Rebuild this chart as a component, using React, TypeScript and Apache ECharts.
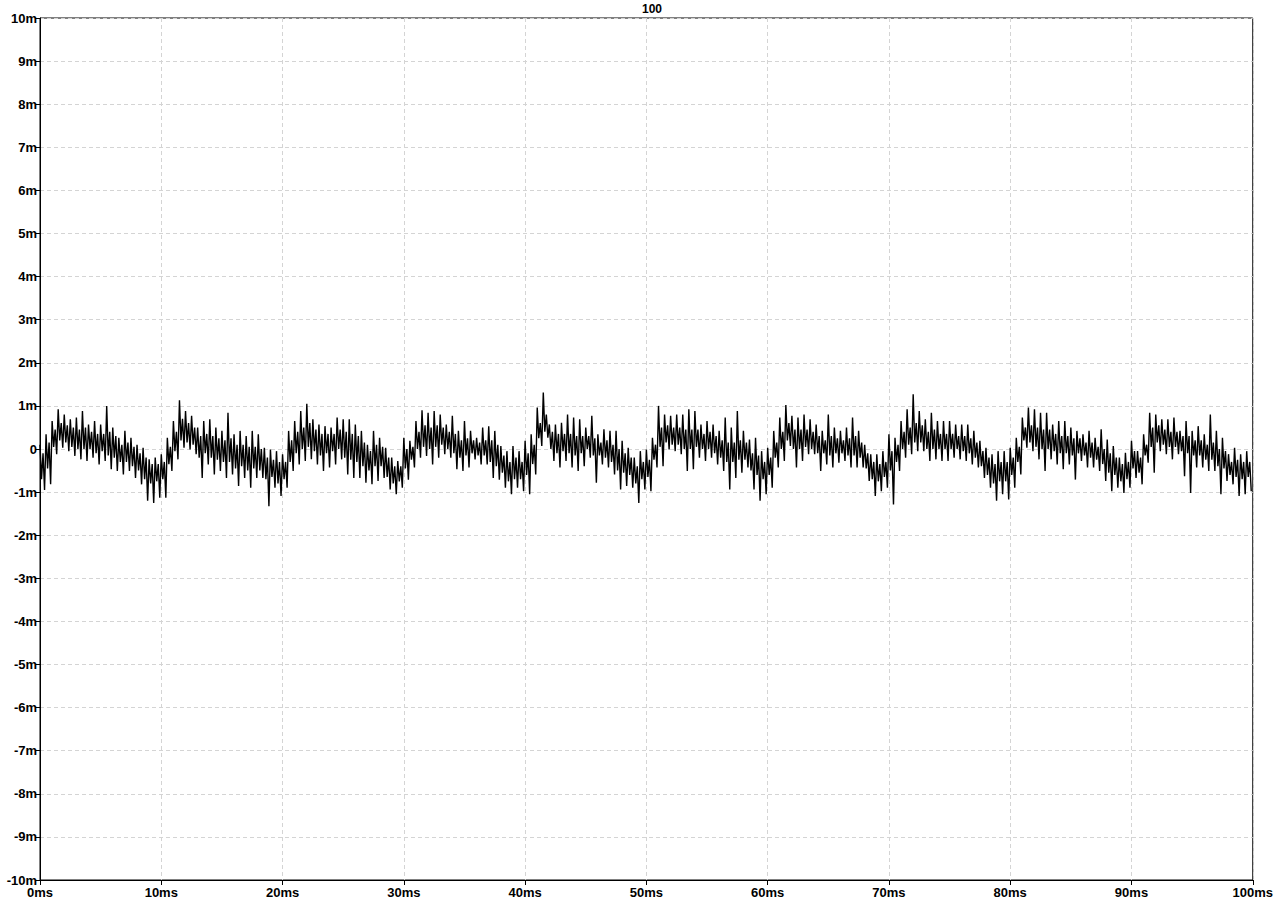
import React, { useEffect, useRef } from "react";
import * as echarts from "echarts";

// Tick labels
const yTicks = [-10, -9, -8, -7, -6, -5, -4, -3, -2, -1, 0, 1, 2, 3, 4, 5, 6, 7, 8, 9, 10];
const xTicks = [0, 10, 20, 30, 40, 50, 60, 70, 80, 90, 100];
const title = "100";

// Outer envelope (spike extremes) of the trace per 0.5 ms segment (mV)
const segHigh = [
  0.1, 0.34, 0.65, 0.92, 0.8, 0.69, 0.73, 0.88, 0.57, 0.65, 0.57, 1.0, 0.5, 0.26, 0.42, 0.26, 0.1, 0.03,
  -0.24, -0.2, -0.12, 0.26, 0.65, 1.13, 0.88, 0.77, 0.5, 0.65, 0.69, 0.5, 0.42, 0.84, 0.34, 0.42, 0.3, 0.42,
  0.34, 0.03, -0.01, -0.05, -0.12, 0.42, 0.65, 0.88, 1.05, 0.69, 0.57, 0.53, 0.5, 0.73, 0.69, 0.69, 0.57, 0.42,
  0.1, 0.42, 0.26, 0.03, -0.2, -0.28, 0.26, 0.19, 0.65, 0.9, 0.84, 0.88, 0.8, 0.57, 0.77, 0.42, 0.65, 0.42,
  0.26, 0.5, 0.53, 0.42, 0.07, -0.05, 0.07, -0.05, 0.19, 0.34, 0.96, 1.31, 0.57, 0.57, 0.61, 0.8, 0.73, 0.69,
  0.5, 0.77, 0.34, 0.46, 0.42, 0.42, 0.19, 0.03, -0.2, -0.05, -0.01, 0.26, 1.0, 0.8, 0.77, 0.8, 0.8, 0.92,
  0.88, 0.57, 0.65, 0.57, 0.42, 0.73, 0.5, 0.88, 0.42, 0.22, 0.26, -0.05, 0.03, 0.42, 0.73, 1.02, 0.77, 0.73,
  0.8, 0.69, 0.57, 0.42, 0.8, 0.5, 0.42, 0.5, 0.73, 0.42, 0.1, -0.12, -0.12, -0.05, 0.34, 0.26, 0.65, 0.92,
  1.27, 0.88, 0.69, 0.84, 0.65, 0.65, 0.65, 0.57, 0.57, 0.57, 0.42, 0.19, 0.03, -0.12, -0.05, -0.05, 0.03, 0.26,
  0.73, 0.96, 0.92, 0.84, 0.84, 0.57, 0.65, 0.65, 0.5, 0.42, 0.34, 0.42, 0.26, 0.46, 0.22, 0.07, -0.2, -0.09,
  0.19, -0.05, 0.34, 0.84, 0.8, 0.69, 0.69, 0.73, 0.42, 0.65, 0.42, 0.53, 0.34, 0.8, 0.42, 0.26, -0.12, 0.03,
  -0.12, -0.05,
];
const segLow = [
  -0.95, -0.82, -0.12, 0.03, -0.05, -0.16, -0.24, -0.28, -0.2, -0.36, -0.28, -0.47, -0.51, -0.59, -0.51, -0.67, -0.82, -1.2,
  -1.25, -1.13, -1.13, -0.51, -0.24, 0.03, -0.01, -0.12, -0.67, -0.36, -0.59, -0.51, -0.67, -0.59, -0.86, -0.67, -0.9, -0.67,
  -0.67, -1.33, -0.9, -1.09, -0.9, -0.51, -0.36, -0.28, -0.24, -0.36, -0.51, -0.43, -0.36, -0.24, -0.59, -0.67, -0.67, -0.78,
  -0.82, -0.74, -0.67, -0.94, -1.05, -0.9, -0.71, -0.43, -0.2, -0.16, -0.36, -0.2, -0.12, -0.2, -0.47, -0.51, -0.43, -0.24,
  -0.36, -0.36, -0.67, -0.71, -0.9, -1.05, -0.9, -0.98, -1.05, -0.59, 0.07, 0.26, -0.28, -0.43, -0.28, -0.43, -0.51, -0.4,
  -0.2, -0.78, -0.36, -0.43, -0.59, -0.94, -0.86, -0.9, -1.25, -0.94, -0.98, -0.43, -0.4, -0.01, -0.05, -0.12, -0.51, -0.47,
  -0.2, -0.28, -0.2, -0.36, -0.51, -0.94, -0.67, -0.55, -0.43, -0.94, -1.2, -1.05, -0.9, -0.43, -0.28, 0.07, -0.43, -0.28,
  -0.12, -0.12, -0.51, -0.36, -0.43, -0.32, -0.28, -0.43, -0.43, -0.43, -0.74, -1.09, -0.98, -0.9, -1.29, -0.51, -0.2, -0.12,
  -0.05, -0.05, -0.28, -0.24, -0.28, -0.28, -0.2, -0.24, -0.28, -0.36, -0.43, -0.67, -0.9, -1.2, -1.05, -1.17, -0.9, -0.59,
  0.03, -0.05, -0.24, -0.51, -0.24, -0.36, -0.47, -0.36, -0.71, -0.28, -0.43, -0.43, -0.51, -0.74, -0.98, -0.9, -1.02, -0.9,
  -0.67, -0.82, -0.32, -0.55, -0.05, -0.12, -0.24, -0.12, -0.63, -1.02, -0.43, -0.43, -0.51, -0.51, -1.05, -0.74, -0.82, -1.09,
  -1.05, -0.98,
];
// Dense core band of the trace per 0.5 ms segment (mV)
const coreHigh = [
  -0.1, 0.15, 0.45, 0.6, 0.55, 0.5, 0.45, 0.5, 0.4, 0.35, 0.35, 0.4, 0.3, 0.1, 0.15, 0.05, -0.1, -0.2,
  -0.35, -0.35, -0.3, 0.05, 0.4, 0.7, 0.6, 0.5, 0.3, 0.35, 0.3, 0.25, 0.2, 0.25, 0.1, 0.1, 0.05, 0.05,
  0.0, -0.2, -0.25, -0.3, -0.3, 0.2, 0.4, 0.5, 0.6, 0.45, 0.35, 0.35, 0.35, 0.45, 0.4, 0.35, 0.3, 0.15,
  -0.05, 0.1, 0.05, -0.2, -0.4, -0.4, 0.0, 0.05, 0.4, 0.55, 0.5, 0.55, 0.5, 0.4, 0.35, 0.2, 0.25, 0.2,
  0.15, 0.2, 0.2, 0.1, -0.15, -0.3, -0.2, -0.3, -0.1, 0.1, 0.6, 0.8, 0.4, 0.35, 0.35, 0.35, 0.3, 0.3,
  0.3, 0.25, 0.15, 0.2, 0.1, 0.0, -0.1, -0.2, -0.4, -0.3, -0.25, 0.1, 0.5, 0.55, 0.5, 0.5, 0.45, 0.45,
  0.45, 0.35, 0.4, 0.3, 0.2, 0.15, 0.15, 0.2, 0.15, -0.1, -0.15, -0.3, -0.2, 0.15, 0.4, 0.6, 0.45, 0.45,
  0.45, 0.4, 0.3, 0.2, 0.3, 0.25, 0.2, 0.25, 0.3, 0.15, -0.1, -0.3, -0.35, -0.3, -0.05, 0.1, 0.4, 0.5,
  0.6, 0.55, 0.4, 0.45, 0.35, 0.35, 0.35, 0.3, 0.3, 0.25, 0.15, -0.05, -0.2, -0.35, -0.3, -0.3, -0.2, 0.05,
  0.5, 0.55, 0.5, 0.45, 0.45, 0.35, 0.3, 0.3, 0.25, 0.25, 0.15, 0.15, 0.05, 0.0, -0.1, -0.2, -0.35, -0.3,
  -0.05, -0.2, 0.1, 0.5, 0.55, 0.45, 0.4, 0.4, 0.3, 0.3, 0.2, 0.2, 0.1, 0.15, 0.0, -0.05, -0.3, -0.25,
  -0.3, -0.3,
];
const coreLow = [
  -0.7, -0.45, 0.05, 0.2, 0.15, 0.05, 0.0, 0.0, 0.0, -0.1, -0.05, -0.15, -0.2, -0.3, -0.3, -0.4, -0.5, -0.7,
  -0.8, -0.75, -0.7, -0.35, -0.05, 0.2, 0.15, 0.1, -0.2, -0.1, -0.2, -0.25, -0.3, -0.3, -0.45, -0.4, -0.5, -0.45,
  -0.5, -0.7, -0.65, -0.8, -0.7, -0.3, -0.1, 0.0, 0.05, -0.05, -0.15, -0.1, -0.05, 0.0, -0.2, -0.25, -0.3, -0.4,
  -0.5, -0.4, -0.4, -0.65, -0.8, -0.75, -0.45, -0.25, 0.0, 0.05, 0.0, 0.05, 0.1, 0.0, -0.1, -0.2, -0.15, -0.1,
  -0.15, -0.15, -0.3, -0.4, -0.55, -0.75, -0.7, -0.7, -0.6, -0.35, 0.25, 0.4, 0.0, -0.1, -0.05, -0.1, -0.15, -0.1,
  0.0, -0.15, -0.15, -0.2, -0.3, -0.5, -0.55, -0.6, -0.8, -0.7, -0.65, -0.25, 0.05, 0.15, 0.1, 0.1, 0.0, 0.0,
  0.05, 0.0, 0.0, -0.1, -0.2, -0.3, -0.3, -0.25, -0.25, -0.5, -0.6, -0.7, -0.6, -0.2, 0.0, 0.2, 0.0, 0.0,
  0.05, 0.0, -0.1, -0.1, -0.15, -0.1, -0.1, -0.15, -0.15, -0.2, -0.45, -0.7, -0.75, -0.65, -0.5, -0.3, 0.0, 0.1,
  0.15, 0.15, 0.0, 0.0, 0.0, 0.0, 0.0, 0.0, -0.05, -0.1, -0.2, -0.4, -0.6, -0.8, -0.75, -0.75, -0.6, -0.3,
  0.2, 0.15, 0.05, 0.0, 0.0, -0.05, -0.1, -0.1, -0.15, -0.1, -0.15, -0.2, -0.25, -0.35, -0.55, -0.6, -0.75, -0.7,
  -0.45, -0.55, -0.15, 0.05, 0.15, 0.1, 0.05, 0.05, -0.05, -0.1, -0.15, -0.15, -0.25, -0.25, -0.4, -0.45, -0.6, -0.65,
  -0.7, -0.65,
];
const segStep = 0.5; // ms per segment

export default function App() {
  const ref = useRef<HTMLDivElement>(null);
  useEffect(() => {
    if (!ref.current) return;
    const chart = echarts.init(ref.current, null, { renderer: "svg" });
    const q = segStep / 4;
    const pts: [number, number][] = [];
    for (let i = 0; i < segHigh.length; i++) {
      const t = i * segStep;
      pts.push([t, segHigh[i]]);
      pts.push([t + q, coreLow[i]]);
      pts.push([t + 2 * q, coreHigh[i]]);
      pts.push([t + 3 * q, segLow[i]]);
    }
    const font = { fontFamily: "Liberation Sans, Arial, sans-serif", fontWeight: "bold" as const, fontSize: 13, color: "#000" };
    chart.setOption({
      animation: false,
      backgroundColor: "#fff",
      title: {
        text: title,
        left: 647,
        top: -2,
        textAlign: "center",
        textStyle: { ...font, fontSize: 12 },
      },
      grid: { left: 40, right: 22, top: 18, bottom: 26, show: true, borderColor: "#000", borderWidth: 1, containLabel: false },
      xAxis: {
        type: "value",
        min: xTicks[0],
        max: xTicks[xTicks.length - 1],
        interval: 10,
        axisLine: { show: true, onZero: false, lineStyle: { color: "#000", width: 1 } },
        axisTick: { show: true, length: 5, lineStyle: { color: "#000" } },
        axisLabel: { ...font, margin: 6, formatter: (v: number) => `${v}ms` },
        splitLine: { show: true, lineStyle: { color: "#d4d4d4", type: [4, 3], width: 1 } },
      },
      yAxis: {
        type: "value",
        min: yTicks[0],
        max: yTicks[yTicks.length - 1],
        interval: 1,
        axisLine: { show: true, onZero: false, lineStyle: { color: "#000", width: 1 } },
        axisTick: { show: true, length: 5, lineStyle: { color: "#000" } },
        axisLabel: { ...font, margin: 3, formatter: (v: number) => (v === 0 ? "0" : `${v}m`) },
        splitLine: { show: true, lineStyle: { color: "#d4d4d4", type: [4, 3], width: 1 } },
      },
      series: [
        {
          type: "line",
          data: pts,
          showSymbol: false,
          symbol: "none",
          lineStyle: { color: "#000", width: 1.4 },
        },
      ],
    });
    return () => chart.dispose();
  }, []);
  return <div ref={ref} style={{ width: 1276, height: 906, position: "absolute", left: 0, top: 0 }} />;
}
